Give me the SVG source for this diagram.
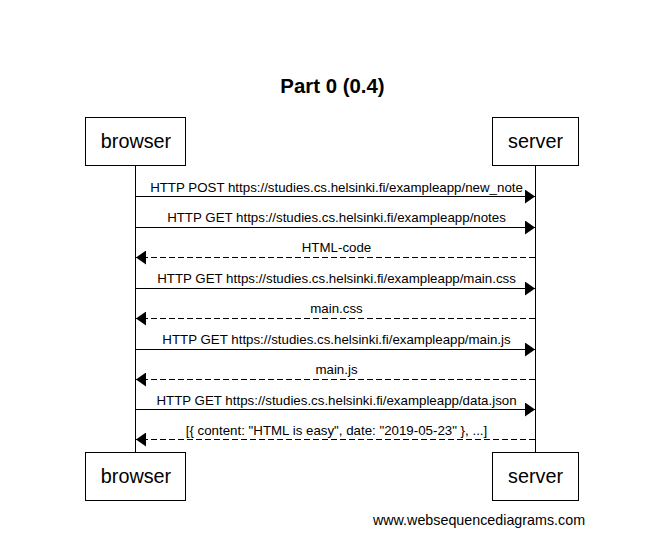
<svg xmlns="http://www.w3.org/2000/svg" width="672" height="558" viewBox="0 0 672 558">
<defs>
<style>
text{font-family:"Liberation Sans",Arial,sans-serif;fill:#000}
.title{font-size:20.4px;font-weight:bold;text-anchor:middle}
.actor{font-size:19.8px;text-anchor:middle}
.box{fill:#fff;stroke:#000;stroke-width:1}
.life{stroke:#000;stroke-width:1}
.msg{font-size:13.3px;text-anchor:middle}
.req{stroke:#000;stroke-width:1;fill:none;marker-end:url(#ah)}
.resp{stroke:#000;stroke-width:1;fill:none;stroke-dasharray:6,3;marker-end:url(#ah)}
.foot{font-size:14.3px;text-anchor:middle}
</style>
<marker id="ah" markerWidth="11" markerHeight="14" refX="10" refY="7" orient="auto" markerUnits="userSpaceOnUse">
<path d="M0,0 L10,7 L0,14 Z" fill="#000"/>
</marker>
</defs>
<rect width="672" height="558" fill="#fff"/>
<text class="title" x="332.5" y="93">Part 0 (0.4)</text>
<g id="lifelines">
<line class="life" x1="135.5" y1="166" x2="135.5" y2="452"/>
<line class="life" x1="535.5" y1="166" x2="535.5" y2="452"/>
</g>
<g id="browser">
<rect class="box" x="85.5" y="117.5" width="100" height="48"/>
<text class="actor" x="136" y="148">browser</text>
</g>
<g id="server">
<rect class="box" x="492.5" y="117.5" width="86" height="48"/>
<text class="actor" x="535.5" y="148">server</text>
</g>
<g id="browser-bottom">
<rect class="box" x="85.5" y="452.5" width="100" height="48"/>
<text class="actor" x="136" y="483">browser</text>
</g>
<g id="server-bottom">
<rect class="box" x="492.5" y="452.5" width="86" height="48"/>
<text class="actor" x="535.5" y="483">server</text>
</g>
<g id="connectors">
<line class="req" x1="136" y1="196.5" x2="535" y2="196.5"/>
<text class="msg" x="336.5" y="192">HTTP POST https://studies.cs.helsinki.fi/exampleapp/new_note</text>
<line class="req" x1="136" y1="227.5" x2="535" y2="227.5"/>
<text class="msg" x="336.5" y="222">HTTP GET https://studies.cs.helsinki.fi/exampleapp/notes</text>
<line class="resp" x1="535" y1="257.5" x2="136" y2="257.5"/>
<text class="msg" x="336.5" y="252">HTML-code</text>
<line class="req" x1="136" y1="288.5" x2="535" y2="288.5"/>
<text class="msg" x="336.5" y="283">HTTP GET https://studies.cs.helsinki.fi/exampleapp/main.css</text>
<line class="resp" x1="535" y1="318.5" x2="136" y2="318.5"/>
<text class="msg" x="336.5" y="313">main.css</text>
<line class="req" x1="136" y1="349.5" x2="535" y2="349.5"/>
<text class="msg" x="336.5" y="344">HTTP GET https://studies.cs.helsinki.fi/exampleapp/main.js</text>
<line class="resp" x1="535" y1="379.5" x2="136" y2="379.5"/>
<text class="msg" x="336.5" y="374">main.js</text>
<line class="req" x1="136" y1="409.5" x2="535" y2="409.5"/>
<text class="msg" x="336.5" y="405">HTTP GET https://studies.cs.helsinki.fi/exampleapp/data.json</text>
<line class="resp" x1="535" y1="439.5" x2="136" y2="439.5"/>
<text class="msg" x="336.5" y="435">[{ content: "HTML is easy", date: "2019-05-23" }, ...]</text>
</g>
<text class="foot" x="479" y="525">www.websequencediagrams.com</text>
</svg>
